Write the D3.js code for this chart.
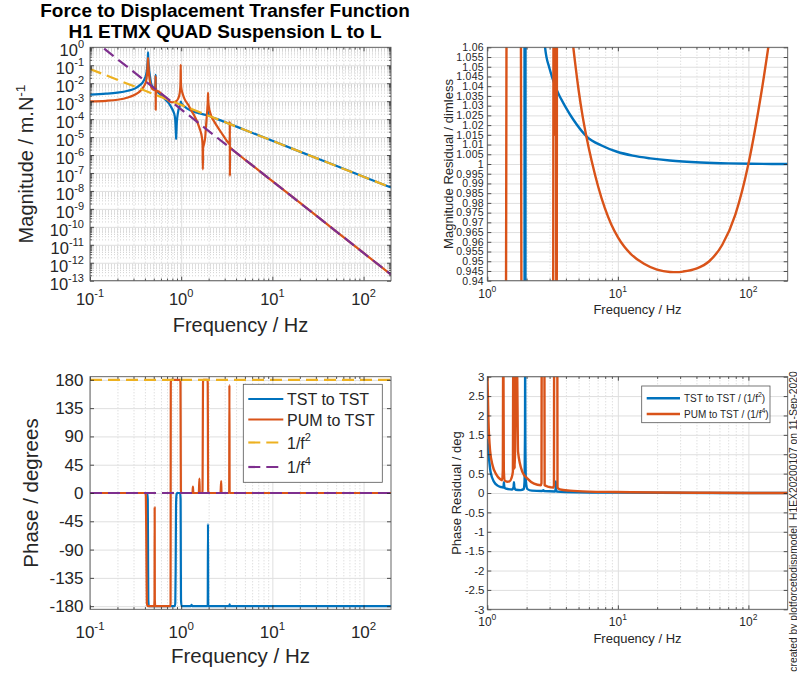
<!DOCTYPE html>
<html lang="en">
<head>
<meta charset="UTF-8">
<title>Force to Displacement Transfer Function</title>
<style>
body { margin: 0; background: #fff; }
svg { display: block; font-family: "Liberation Sans", Arial, Helvetica, sans-serif; }
.grid-major line { stroke: #dfdfdf; stroke-width: 1; }
.grid-minor line { stroke: #d2d2d2; stroke-width: 1; stroke-dasharray: 1,2; }
.ticks line { stroke: #262626; stroke-width: 0.8; }
.frame { fill: none; stroke: #555; stroke-width: 0.9; }
.lbl { fill: #262626; }
</style>
</head>
<body>
<svg width="797" height="675"></svg>
<script src="https://d3js.org/d3.v7.min.js"></script>
<script>

// colours of the four traces
var TST = '#0072BD', PUM = '#D95319', F2 = '#EDB120', F4 = '#7E2F8E';

// tick values
var magTicks = [1e0, 1e-1, 1e-2, 1e-3, 1e-4, 1e-5, 1e-6, 1e-7, 1e-8, 1e-9, 1e-10, 1e-11, 1e-12, 1e-13];
var freqTicksLeft = [0.1, 1, 10, 100];
var freqTicksRight = [1, 10, 100];
var phaseTicks = [180, 135, 90, 45, 0, -45, -90, -135, -180];
var magResTicks = [1.06, 1.055, 1.05, 1.045, 1.04, 1.035, 1.03, 1.025, 1.02, 1.015, 1.01, 1.005, 1,
                   0.995, 0.99, 0.985, 0.98, 0.975, 0.97, 0.965, 0.96, 0.955, 0.95, 0.945, 0.94];
var phaseResTicks = [3, 2.5, 2, 1.5, 1, 0.5, 0, -0.5, -1, -1.5, -2, -2.5, -3];

// magnitude, [Hz, m/N]
var tstMag = [[0.1, 2.3e-3], [0.15, 2.6e-3], [0.2, 3.0e-3], [0.26, 3.8e-3], [0.31, 5.0e-3], [0.35, 7.5e-3],
  [0.38, 1.15e-2], [0.40, 1.9e-2], [0.415, 3.5e-2], [0.425, 9e-2], [0.431, 0.3], [0.433, 0.52], [0.435, 0.3],
  [0.442, 8e-2], [0.455, 2.5e-2], [0.47, 9e-3], [0.51, 5.2e-3], [0.52, 6.5e-3], [0.524, 1.5e-2], [0.525, 2.9e-2],
  [0.527, 8e-3], [0.535, 3.6e-3], [0.557, 3.1e-3], [0.61, 2.0e-3], [0.66, 1.32e-3], [0.72, 8.5e-4], [0.778, 4.6e-4],
  [0.82, 2.7e-4], [0.849, 1.5e-4], [0.865, 6e-5], [0.875, 1.5e-5], [0.88, 7.8e-6], [0.885, 1.5e-5], [0.895, 6e-5],
  [0.923, 2.4e-4], [0.96, 5e-4], [0.985, 8e-4], [0.992, 9.5e-4], [1.0, 8e-4], [1.04, 6.2e-4], [1.1, 4.8e-4],
  [1.19, 3.6e-4], [1.35, 2.7e-4], [1.53, 2.2e-4], [1.75, 1.85e-4], [1.9, 1.7e-4], [1.955, 2.0e-4], [1.97, 2.8e-4],
  [1.985, 1.9e-4], [2.05, 1.5e-4], [2.5, 1.0e-4], [3.42, 5.3e-5], [5, 2.5e-5], [10, 6.2e-6], [20, 1.55e-6],
  [50, 2.5e-7], [100, 6.2e-8], [200, 1.55e-8]];
var pumMag = [[0.1, 9.8e-4], [0.15, 1.05e-3], [0.2, 1.2e-3], [0.26, 1.6e-3], [0.31, 2.3e-3], [0.35, 3.4e-3],
  [0.38, 5.5e-3], [0.40, 8.5e-3], [0.415, 1.6e-2], [0.425, 4.5e-2], [0.431, 0.15], [0.433, 0.25], [0.435, 0.15],
  [0.442, 4e-2], [0.455, 1.2e-2], [0.47, 6e-3], [0.5, 4.2e-3], [0.52, 4.5e-3], [0.5235, 1.2e-2], [0.5245, 2.5e-2],
  [0.5255, 3.3e-4], [0.527, 2.5e-3], [0.545, 3.7e-3], [0.56, 3.6e-3], [0.62, 2.3e-3], [0.68, 1.5e-3],
  [0.716, 1.15e-3], [0.77, 9e-4], [0.812, 8.7e-4], [0.87, 9.5e-4], [0.92, 1.3e-3], [0.955, 2.2e-3], [0.975, 5e-3],
  [0.984, 1.5e-2], [0.988, 0.107], [0.992, 1.5e-2], [1.0, 6e-3], [1.04, 2.5e-3], [1.09, 1.3e-3], [1.19, 6.5e-4],
  [1.29, 3.0e-4], [1.4, 1.5e-4], [1.53, 5.4e-5], [1.62, 2.3e-5], [1.68, 1.1e-5], [1.715, 4e-6], [1.728, 1.6e-7],
  [1.74, 2.5e-6], [1.78, 4e-6], [1.83, 9e-6], [1.88, 5.4e-5], [1.93, 3e-4], [1.96, 1.2e-3], [1.97, 2.95e-3],
  [1.98, 1.2e-3], [2.0, 6e-4], [2.05, 3e-4], [2.15, 1.4e-4], [2.33, 6.6e-5], [2.75, 1.8e-5], [3.26, 5.1e-6],
  [3.41, 4e-6], [3.415, 7.2e-5], [3.42, 6.8e-8], [3.43, 2.6e-6], [3.6, 2.1e-6], [5, 5.6e-7], [10, 3.5e-8],
  [20, 2.2e-9], [50, 5.6e-11], [100, 3.5e-12], [200, 2.2e-13]];
var f2Mag = [[0.1, 6.2e-2], [200, 1.55e-8]];
var f4Mag = [[0.1, 3.5], [200, 2.2e-13]];

// phase, [Hz, deg]
var tstPhase = [[0.1, 0], [0.425, 0], [0.43, -10], [0.433, -90], [0.436, -170], [0.442, -180], [0.85, -180],
  [0.862, -175], [0.87, -120], [0.878, -20], [0.89, -2], [0.9, 0], [0.975, 0], [0.985, -10], [0.99, -90],
  [0.995, -170], [1.01, -180], [1.28, -180], [1.3, -178], [1.32, -180], [1.955, -180], [1.968, -49], [1.98, -180],
  [3.38, -180], [3.4, -177], [3.42, -180], [200, -180]];
var pumPhase = [[0.1, 0], [0.405, 0], [0.41, -5], [0.415, -90], [0.42, -175], [0.43, -180], [0.505, -180],
  [0.51, -170], [0.512, -23], [0.514, -170], [0.52, -180], [0.76, -180], [0.765, -175], [0.767, 0], [0.769, 175],
  [0.775, 180], [0.975, 180], [0.982, 175], [0.987, 90], [0.992, 5], [1.0, 0], [1.33, 0], [1.345, 10], [1.36, 0],
  [1.56, 0], [1.585, 23], [1.6, 0], [1.7, 0], [1.715, 5], [1.725, 90], [1.735, 175], [1.75, 180], [1.94, 180],
  [1.955, 175], [1.965, 90], [1.975, 5], [1.99, 0], [2.7, 0], [2.745, 19], [2.77, 0], [3.36, 0], [3.38, 172],
  [3.4, 0], [200, 0]];
var f2Phase = [[0.1, 180], [200, 180]];
var f4Phase = [[0.1, 0], [200, 0]];

// magnitude residual, [Hz, ratio]
var tstMagRes = [[1.0, 1.25], [1.92, 1.5], [1.935, 0.7], [1.955, 0.7], [1.97, 1.5], [2.5, 1.2], [2.77, 1.06],
  [3.0, 1.049], [3.41, 1.038], [4.0, 1.029], [4.58, 1.0226], [5.8, 1.014], [7.5, 1.0095], [9.86, 1.0063],
  [13, 1.0043], [17.7, 1.0029], [25, 1.0018], [43, 1.0008], [70, 1.0003], [104, 1.0001], [200, 1.0]];
var pumMagRes = [[1.0, 0.85], [1.385, 0.9], [1.41, 1.1], [1.80, 1.1], [1.835, 0.9], [3.19, 0.9], [3.22, 1.1],
  [3.28, 1.1], [3.29, 1.015], [3.30, 1.1], [3.36, 1.1], [3.38, 0.9], [3.40, 0.9], [3.42, 1.1], [4.3, 1.075],
  [4.52, 1.062], [4.68, 1.0534], [5.01, 1.0378], [5.37, 1.0246], [5.73, 1.0144], [6.31, 1.0014], [7.08, 0.9882],
  [7.94, 0.9774], [8.91, 0.9689], [10, 0.9624], [11.22, 0.9574], [12.59, 0.9537], [15.85, 0.9487],
  [19.95, 0.9457], [25.12, 0.9445], [28.2, 0.9444], [31.62, 0.9447], [39.81, 0.9462], [50.12, 0.950],
  [63.1, 0.9585], [79.43, 0.974], [100, 1.0], [125.9, 1.037], [158.5, 1.082], [200, 1.13]];

// phase residual, [Hz, deg]
var tstPhaseRes = [[1.0, 1.4], [1.03, 0.9], [1.06, 0.54], [1.13, 0.28], [1.2, 0.19], [1.27, 0.155], [1.32, 0.14],
  [1.335, 0.2], [1.34, 0.28], [1.345, 0.2], [1.36, 0.13], [1.45, 0.1], [1.55, 0.09], [1.59, 0.15], [1.6, 0.28],
  [1.61, 0.15], [1.65, 0.085], [1.8, 0.075], [1.9, 0.1], [1.93, 0.3], [1.945, 1.5], [1.95, 3.2], [1.955, 1.5],
  [1.975, 0.3], [2.03, 0.1], [2.2, 0.06], [2.6, 0.05], [2.69, 0.07], [2.72, 0.05], [3.3, 0.04], [3.34, 0.12],
  [3.35, 0.3], [3.36, 0.12], [3.4, 0.04], [5, 0.02], [10, 0.01], [20, 0.005], [200, 0]];
var pumPhaseRes = [[1.0, 3.2], [1.02, 1.9], [1.05, 1.1], [1.1, 0.7], [1.17, 0.48], [1.25, 0.36], [1.3, 0.33],
  [1.315, 0.6], [1.322, 3.2], [1.33, 3.2], [1.338, 0.6], [1.36, 0.32], [1.42, 0.29], [1.48, 0.3], [1.53, 0.38],
  [1.57, 0.55], [1.58, 3.2], [1.6, 3.2], [1.62, 0.63], [1.66, 3.2], [1.69, 3.2], [1.72, 1.06], [1.86, 0.54],
  [2.03, 0.37], [2.28, 0.24], [2.57, 0.2], [2.6, 0.25], [2.61, 3.2], [2.74, 3.2], [2.75, 0.2], [2.95, 0.16],
  [3.2, 0.14], [3.24, 0.2], [3.25, 3.2], [3.44, 3.2], [3.45, 0.14], [3.6, 0.095], [4.3, 0.06], [6, 0.035],
  [9.4, 0.026], [20, 0.012], [50, 0.005], [200, 0]];


var svg = d3.select('svg');

function logMinor(lo, hi) {
    var out = [];
    for (var d = Math.floor(Math.log10(lo)); d <= Math.ceil(Math.log10(hi)); d++) {
        for (var k = 2; k <= 9; k++) {
            var v = k * Math.pow(10, d);
            if (v > lo * 1.0001 && v < hi * 0.9999) out.push(v);
        }
    }
    return out;
}

function strip(sel) {
    sel.select('.domain').remove();
    sel.selectAll('text').remove();
}

/**
 * axes box with grid, returns scales and a clipped group for the traces
 */
function buildPanel(cfg) {
    var w = cfg.right - cfg.left, h = cfg.bottom - cfg.top;
    var x = d3.scaleLog().domain(cfg.xDomain).range([cfg.left, cfg.right]);
    var y = (cfg.yLog ? d3.scaleLog() : d3.scaleLinear()).domain(cfg.yDomain).range([cfg.bottom, cfg.top]);
    var g = svg.append('g').attr('class', 'panel-' + cfg.id);

    g.append('g').attr('class', 'grid grid-minor')
        .attr('transform', 'translate(0,' + cfg.bottom + ')')
        .call(d3.axisBottom(x).tickValues(cfg.xMinor).tickSize(-h)).call(strip);
    if (cfg.yMinor) {
        g.append('g').attr('class', 'grid grid-minor')
            .attr('transform', 'translate(' + cfg.left + ',0)')
            .call(d3.axisLeft(y).tickValues(cfg.yMinor).tickSize(-w)).call(strip);
    }
    g.append('g').attr('class', 'grid grid-major')
        .attr('transform', 'translate(0,' + cfg.bottom + ')')
        .call(d3.axisBottom(x).tickValues(cfg.xTicks).tickSize(-h)).call(strip);
    g.append('g').attr('class', 'grid grid-major')
        .attr('transform', 'translate(' + cfg.left + ',0)')
        .call(d3.axisLeft(y).tickValues(cfg.yTicks).tickSize(-w)).call(strip);

    svg.append('clipPath').attr('id', 'clip-' + cfg.id)
        .append('rect')
        .attr('x', cfg.left).attr('y', cfg.top)
        .attr('width', w).attr('height', h);

    var plot = g.append('g').attr('clip-path', 'url(#clip-' + cfg.id + ')');
    return { cfg: cfg, g: g, x: x, y: y, plot: plot };
}

// frame + inward ticks on all four sides
function finishPanel(p) {
    var c = p.cfg, g = p.g;
    function ticks(axisFn, scale, values, size, tr) {
        g.append('g').attr('class', 'ticks').attr('transform', tr)
            .call(axisFn(scale).tickValues(values).tickSize(-size)).call(strip);
    }
    ticks(d3.axisBottom, p.x, c.xTicks, 4, 'translate(0,' + c.bottom + ')');
    ticks(d3.axisTop, p.x, c.xTicks, 4, 'translate(0,' + c.top + ')');
    ticks(d3.axisBottom, p.x, c.xMinor, 2.2, 'translate(0,' + c.bottom + ')');
    ticks(d3.axisTop, p.x, c.xMinor, 2.2, 'translate(0,' + c.top + ')');
    ticks(d3.axisLeft, p.y, c.yTicks, 4, 'translate(' + c.left + ',0)');
    ticks(d3.axisRight, p.y, c.yTicks, 4, 'translate(' + c.right + ',0)');
    if (c.yMinor) {
        ticks(d3.axisLeft, p.y, c.yMinor, 2.2, 'translate(' + c.left + ',0)');
        ticks(d3.axisRight, p.y, c.yMinor, 2.2, 'translate(' + c.right + ',0)');
    }
    g.append('rect').attr('class', 'frame')
        .attr('x', c.left).attr('y', c.top)
        .attr('width', c.right - c.left).attr('height', c.bottom - c.top);
}

function trace(p, data, color, dashed, width) {
    var line = d3.line()
        .curve(d3.curveMonotoneX)
        .x(function(d) { return p.x(d[0]); })
        .y(function(d) { return p.y(d[1]); });
    p.plot.append('path')
        .datum(data)
        .attr('d', line)
        .attr('fill', 'none')
        .attr('stroke', color)
        .attr('stroke-width', width || 2.2)
        .attr('stroke-linejoin', 'round')
        .attr('stroke-dasharray', dashed ? '12,6' : null);
}

// "10" with a raised exponent
function powLabel(g, x, y, exp, size, supSize, rise, anchor) {
    var t = g.append('text').attr('class', 'lbl')
        .attr('x', x).attr('y', y)
        .attr('text-anchor', anchor)
        .attr('font-size', size);
    t.append('tspan').text('10');
    t.append('tspan').attr('dy', -rise).attr('font-size', supSize).text(exp);
}

function plainLabel(g, x, y, txt, size, anchor) {
    return g.append('text').attr('class', 'lbl')
        .attr('x', x).attr('y', y)
        .attr('text-anchor', anchor || 'middle')
        .attr('font-size', size)
        .text(txt);
}

function rotLabel(g, x, y, txt, size, sup) {
    var t = g.append('text').attr('class', 'lbl')
        .attr('transform', 'translate(' + x + ',' + y + ') rotate(-90)')
        .attr('text-anchor', 'middle')
        .attr('font-size', size);
    t.append('tspan').text(txt);
    if (sup) t.append('tspan').attr('dy', -8).attr('font-size', size * 0.68).text(sup);
    return t;
}

function expOf(v) { return String(Math.round(Math.log10(v))); }


/*------------------------------------*\
  TITLE
\*------------------------------------*/
svg.append('text').attr('x', 225).attr('y', 17).attr('text-anchor', 'middle')
    .attr('font-size', 19).attr('font-weight', 'bold').attr('fill', '#000')
    .text('Force to Displacement Transfer Function');
svg.append('text').attr('x', 225).attr('y', 37.5).attr('text-anchor', 'middle')
    .attr('font-size', 19).attr('font-weight', 'bold').attr('fill', '#000')
    .text('H1 ETMX QUAD Suspension L to L');


/*------------------------------------*\
  MAGNITUDE
\*------------------------------------*/
var magMinor = [];
magTicks.slice(1).forEach(function(v) {
    for (var k = 2; k <= 9; k++) magMinor.push(k * v);
});

var mag = buildPanel({
    id: 'mag', left: 90, right: 391, top: 47.3, bottom: 280.7,
    xDomain: [0.1, 200], yDomain: [1e-13, 1], yLog: true,
    xTicks: freqTicksLeft, xMinor: logMinor(0.1, 200),
    yTicks: magTicks, yMinor: magMinor
});
trace(mag, tstMag, TST);
trace(mag, pumMag, PUM);
trace(mag, f2Mag, F2, true);
trace(mag, f4Mag, F4, true);
finishPanel(mag);

magTicks.forEach(function(v) {
    powLabel(mag.g, 84, mag.y(v) + 9, expOf(v), 16.5, 11, 8, 'end');
});
freqTicksLeft.forEach(function(v) {
    powLabel(mag.g, mag.x(v), 280.7 + 24.5, expOf(v), 16.5, 11, 8, 'middle');
});
plainLabel(mag.g, 240.5, 280.7 + 51, 'Frequency / Hz', 20);
rotLabel(mag.g, 33, 164, 'Magnitude / m.N', 20, '-1');


/*------------------------------------*\
  PHASE
\*------------------------------------*/
var ph = buildPanel({
    id: 'phase', left: 90, right: 391, top: 376.7, bottom: 609.3,
    xDomain: [0.1, 200], yDomain: [-185, 185], yLog: false,
    xTicks: freqTicksLeft, xMinor: logMinor(0.1, 200),
    yTicks: phaseTicks
});
trace(ph, tstPhase, TST);
trace(ph, pumPhase, PUM);
trace(ph, f2Phase, F2, true);
trace(ph, f4Phase, F4, true);
finishPanel(ph);

phaseTicks.forEach(function(v) {
    plainLabel(ph.g, 83.5, ph.y(v) + 6, String(v), 17, 'end');
});
freqTicksLeft.forEach(function(v) {
    powLabel(ph.g, ph.x(v), 609.3 + 29, expOf(v), 17, 11.5, 8.5, 'middle');
});
plainLabel(ph.g, 240.5, 609.3 + 54, 'Frequency / Hz', 20.5);
rotLabel(ph.g, 38, 493, 'Phase / degrees', 20.5);

// legend
var legL = ph.g.append('g').attr('class', 'legend');
legL.append('rect').attr('x', 243.3).attr('y', 384.3).attr('width', 139).attr('height', 98)
    .attr('fill', '#fff').attr('stroke', '#555').attr('stroke-width', 0.8);
[
    { name: 'TST to TST', color: TST, dash: false, y: 399 },
    { name: 'PUM to TST', color: PUM, dash: false, y: 419.5 },
    { name: '1/f', sup: '2', color: F2, dash: true, y: 442.5 },
    { name: '1/f', sup: '4', color: F4, dash: true, y: 467 }
].forEach(function(e) {
    legL.append('line').attr('x1', 248.3).attr('x2', 283.3).attr('y1', e.y).attr('y2', e.y)
        .attr('stroke', e.color).attr('stroke-width', 2.2)
        .attr('stroke-dasharray', e.dash ? '12,6' : null);
    var t = legL.append('text').attr('class', 'lbl').attr('x', 287).attr('y', e.y + 6).attr('font-size', 16);
    t.append('tspan').text(e.name);
    if (e.sup) t.append('tspan').attr('dy', -8).attr('font-size', 11).text(e.sup);
});


/*------------------------------------*\
  MAGNITUDE RESIDUAL
\*------------------------------------*/
var mr = buildPanel({
    id: 'magres', left: 487.3, right: 787.7, top: 47.3, bottom: 280.7,
    xDomain: [1, 200], yDomain: [0.94, 1.06], yLog: false,
    xTicks: freqTicksRight, xMinor: logMinor(1, 200),
    yTicks: magResTicks
});
trace(mr, tstMagRes, TST, false, 2.4);
trace(mr, pumMagRes, PUM, false, 2.4);
finishPanel(mr);

magResTicks.forEach(function(v) {
    plainLabel(mr.g, 484, mr.y(v) + 3.8, String(v), 10.5, 'end').attr('letter-spacing', 0.3);
});
freqTicksRight.forEach(function(v) {
    powLabel(mr.g, mr.x(v), 280.7 + 17, expOf(v), 12, 8.5, 6, 'middle');
});
plainLabel(mr.g, 637.5, 280.7 + 33.5, 'Frequency / Hz', 13);
rotLabel(mr.g, 453, 164, 'Magnitude Residual / dimless', 13);


/*------------------------------------*\
  PHASE RESIDUAL
\*------------------------------------*/
var pr = buildPanel({
    id: 'phaseres', left: 487.3, right: 787.7, top: 376.7, bottom: 609.3,
    xDomain: [1, 200], yDomain: [-3, 3], yLog: false,
    xTicks: freqTicksRight, xMinor: logMinor(1, 200),
    yTicks: phaseResTicks
});
trace(pr, tstPhaseRes, TST, false, 2.4);
trace(pr, pumPhaseRes, PUM, false, 2.4);
finishPanel(pr);

phaseResTicks.forEach(function(v) {
    plainLabel(pr.g, 484.5, pr.y(v) + 4.2, String(v), 11.5, 'end');
});
freqTicksRight.forEach(function(v) {
    powLabel(pr.g, pr.x(v), 609.3 + 17, expOf(v), 12, 8.5, 6, 'middle');
});
plainLabel(pr.g, 637.5, 609.3 + 33.5, 'Frequency / Hz', 13);
rotLabel(pr.g, 461, 493, 'Phase Residual / deg', 13);

var legR = pr.g.append('g').attr('class', 'legend');
legR.append('rect').attr('x', 641.7).attr('y', 386).attr('width', 128.3).attr('height', 36.7)
    .attr('fill', '#fff').attr('stroke', '#555').attr('stroke-width', 0.8);
[
    { name: 'TST to TST / (1/f', sup: '2', color: TST, y: 398.3 },
    { name: 'PUM to TST / (1/f', sup: '4', color: PUM, y: 414 }
].forEach(function(e) {
    legR.append('line').attr('x1', 646.7).attr('x2', 680).attr('y1', e.y).attr('y2', e.y)
        .attr('stroke', e.color).attr('stroke-width', 2.4);
    var t = legR.append('text').attr('class', 'lbl').attr('x', 684).attr('y', e.y + 3.8).attr('font-size', 10);
    t.append('tspan').text(e.name);
    t.append('tspan').attr('dy', -5).attr('font-size', 7).text(e.sup);
    t.append('tspan').attr('dy', 5).text(')');
});

// creation stamp along the right edge
svg.append('text').attr('class', 'lbl')
    .attr('transform', 'translate(796.5,521.5) rotate(-90)')
    .attr('text-anchor', 'middle')
    .attr('font-size', 10.3)
    .text('created by plotforcetodispmodel_H1EX20200107 on 11-Sep-2020');

</script>
</body>
</html>
